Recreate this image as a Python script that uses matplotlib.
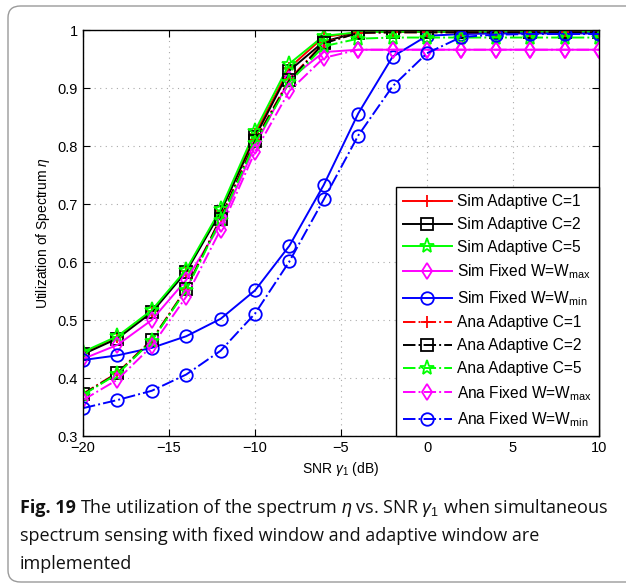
import matplotlib.pyplot as plt
from matplotlib.patches import FancyBboxPatch

plt.rcParams['font.family'] = ['Liberation Sans', 'DejaVu Sans']
plt.rcParams['mathtext.fontset'] = 'custom'
plt.rcParams['mathtext.rm'] = 'Liberation Sans'
plt.rcParams['mathtext.it'] = 'Liberation Sans:italic'

snr = [-20, -18, -16, -14, -12, -10, -8, -6, -4, -2, 0, 2, 4, 6, 8, 10]

# simulation results
sim_c1 = [0.443, 0.470, 0.515, 0.585, 0.688, 0.820, 0.935, 0.988, 0.996, 0.997, 0.997, 0.997, 0.997, 0.997, 0.997, 0.997]
sim_c2 = [0.441, 0.468, 0.513, 0.583, 0.686, 0.815, 0.930, 0.980, 0.996, 0.997, 0.997, 0.997, 0.997, 0.997, 0.997, 0.997]
sim_c5 = [0.445, 0.472, 0.517, 0.587, 0.691, 0.826, 0.942, 0.990, 0.996, 0.997, 0.997, 0.997, 0.997, 0.997, 0.997, 0.997]
sim_wmax = [0.433, 0.457, 0.500, 0.569, 0.665, 0.800, 0.915, 0.962, 0.966, 0.966, 0.966, 0.966, 0.966, 0.966, 0.966, 0.966]
sim_wmin = [0.431, 0.439, 0.452, 0.472, 0.502, 0.551, 0.628, 0.733, 0.856, 0.954, 0.990, 0.993, 0.994, 0.994, 0.994, 0.994]

# analytical results
ana_c1 = [0.373, 0.409, 0.466, 0.554, 0.676, 0.810, 0.915, 0.978, 0.995, 0.996, 0.996, 0.996, 0.996, 0.996, 0.996, 0.996]
ana_c2 = [0.372, 0.408, 0.465, 0.553, 0.675, 0.808, 0.913, 0.977, 0.995, 0.996, 0.996, 0.996, 0.996, 0.996, 0.996, 0.996]
ana_c5 = [0.371, 0.407, 0.464, 0.552, 0.672, 0.805, 0.910, 0.972, 0.985, 0.987, 0.987, 0.987, 0.987, 0.987, 0.987, 0.987]
ana_wmax = [0.362, 0.397, 0.455, 0.540, 0.656, 0.790, 0.895, 0.952, 0.966, 0.966, 0.966, 0.966, 0.966, 0.966, 0.966, 0.966]
ana_wmin = [0.348, 0.362, 0.378, 0.406, 0.447, 0.511, 0.601, 0.708, 0.818, 0.903, 0.960, 0.988, 0.992, 0.993, 0.993, 0.993]

fig = plt.figure(figsize=(6.26, 5.86), dpi=100)

# rounded frame around figure + caption
frame = FancyBboxPatch((8 / 626, 4 / 586), 640 / 626, 576 / 586,
                       boxstyle='round,pad=0,rounding_size=0.02',
                       transform=fig.transFigure, fc='none', ec='#9a9a9a', lw=1.0)
fig.patches.append(frame)

ax = fig.add_axes([83 / 626, 1 - 436 / 586, 516 / 626, 406 / 586])

mag = '#ff00ff'
grn = '#00ff00'
kw = dict(lw=1.4, ms=8, mfc='none', mew=1.3)
kw_star = dict(lw=1.4, ms=11, mfc='none', mew=1.3)
kw_circ = dict(lw=1.4, ms=9, mfc='none', mew=1.3)
ax.plot(snr, sim_c1, '-', color='r', marker='+', label='Sim Adaptive C=1', **kw)
ax.plot(snr, sim_c2, '-', color='k', marker='s', label='Sim Adaptive C=2', **kw)
ax.plot(snr, sim_c5, '-', color=grn, marker='*', label='Sim Adaptive C=5', **kw_star)
ax.plot(snr, sim_wmax, '-', color=mag, marker='d', label='Sim Fixed W=W$_{\\rm max}$', **kw)
ax.plot(snr, sim_wmin, '-', color='b', marker='o', label='Sim Fixed W=W$_{\\rm min}$', **kw_circ)
ax.plot(snr, ana_c1, '-.', color='r', marker='+', label='Ana Adaptive C=1', **kw)
ax.plot(snr, ana_c2, '-.', color='k', marker='s', label='Ana Adaptive C=2', **kw)
ax.plot(snr, ana_c5, '-.', color=grn, marker='*', label='Ana Adaptive C=5', **kw_star)
ax.plot(snr, ana_wmax, '-.', color=mag, marker='d', label='Ana Fixed W=W$_{\\rm max}$', **kw)
ax.plot(snr, ana_wmin, '-.', color='b', marker='o', label='Ana Fixed W=W$_{\\rm min}$', **kw_circ)

ax.set_xlim(-20, 10)
ax.set_ylim(0.3, 1.0)
ax.set_xticks([-20, -15, -10, -5, 0, 5, 10])
ax.set_xticklabels(['\u221220', '\u221215', '\u221210', '\u22125', '0', '5', '10'])
ax.set_yticks([0.3, 0.4, 0.5, 0.6, 0.7, 0.8, 0.9, 1.0])
ax.set_yticklabels(['0.3', '0.4', '0.5', '0.6', '0.7', '0.8', '0.9', '1'])
ax.tick_params(direction='in', top=True, right=True, labelsize=10.5, length=5)
ax.grid(True, ls=(0, (1, 4)), color='#aaaaaa', lw=0.8)
for s in ax.spines.values():
    s.set_linewidth(1.0)

ax.set_xlabel('SNR $\\gamma_1$ (dB)', fontsize=10)
ax.set_ylabel('Utilization of Spectrum $\\eta$', fontsize=10)

leg = ax.legend(loc='lower right', borderaxespad=0, fontsize=11.2, handlelength=3.1,
                handletextpad=0.35, labelspacing=0.5, borderpad=0.45,
                fancybox=False, edgecolor='k', framealpha=1)
leg.get_frame().set_linewidth(1.0)

# caption
cap = {'fontsize': 13, 'family': ['Open Sans', 'DejaVu Sans'], 'color': '#111111'}
fig.text(20 / 626, 1 - 508 / 586, 'Fig. 19', fontweight='bold', va='center', **cap)
fig.text(80 / 626, 1 - 508 / 586,
         'The utilization of the spectrum $\\eta$ vs. SNR $\\gamma_1$ when simultaneous',
         va='center', **cap)
fig.text(20 / 626, 1 - 536 / 586, 'spectrum sensing with fixed window and adaptive window are',
         va='center', **cap)
fig.text(20 / 626, 1 - 564 / 586, 'implemented', va='center', **cap)

fig.savefig('out.png', dpi=100)
